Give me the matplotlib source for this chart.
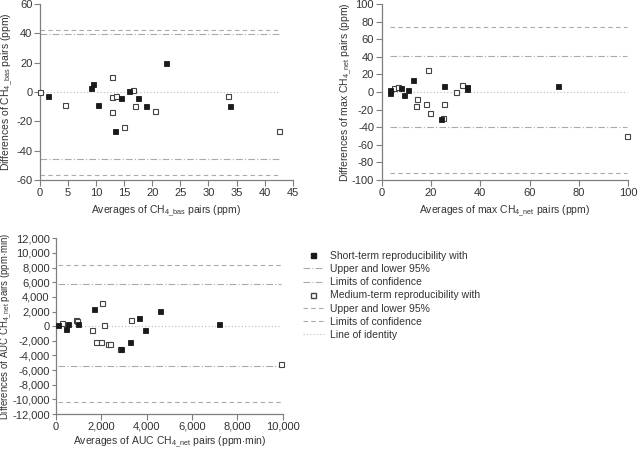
import matplotlib
matplotlib.use("Agg")
import matplotlib.pyplot as plt
from matplotlib.lines import Line2D
import numpy as np

plt.rcParams['font.family'] = ['Liberation Sans', 'DejaVu Sans']
plt.rcParams['mathtext.fontset'] = 'custom'
plt.rcParams['mathtext.rm'] = 'Liberation Sans'
plt.rcParams['mathtext.it'] = 'Liberation Sans'

# ---- Panel 1: CH4_bas ----
p1_short_x = [1.5, 9.0, 9.4, 10.4, 13.4, 14.5, 15.9, 17.4, 18.9, 22.4, 33.9]
p1_short_y = [-2.5, 2.5, 5.7, -8.6, -26.4, -4.3, 0.7, -4.3, -9.3, 19.5, -9.3]
p1_med_x = [0.0, 4.5, 12.9, 12.9, 13.5, 12.9, 15.0, 16.5, 16.9, 20.4, 33.5, 42.6]
p1_med_y = [0.0, -8.6, 10.4, -3.4, -2.7, -13.6, -23.6, 1.6, -9.3, -12.7, -2.5, -26.6]
p1_short_loa = [39.3, -45.4]
p1_med_loa = [42.1, -56.8]

# ---- Panel 2: max CH4_net ----
p2_short_x = [3.3, 3.3, 8.0, 9.2, 10.5, 12.6, 24.0, 25.1, 34.5, 34.5, 71.4]
p2_short_y = [2.0, -1.0, 4.9, -3.0, 1.9, 14.0, -31.0, 6.8, 5.3, 3.0, 6.8]
p2_med_x = [5.0, 6.6, 14.1, 14.2, 18.0, 18.6, 19.6, 24.7, 25.3, 30.1, 32.7, 99.3]
p2_med_y = [5.0, 5.7, -15.5, -8.3, -14.0, 25.5, -24.2, -30.0, -13.3, 0.0, 8.3, -50.4]
p2_short_loa = [41.3, -39.8]
p2_med_loa = [74.2, -92.4]

# ---- Panel 3: AUC CH4_net ----
p3_short_x = [100, 430, 540, 960, 1680, 2880, 3250, 3650, 3930, 4590, 7190]
p3_short_y = [200, -350, 250, 300, 2390, -3100, -2200, 1100, -480, 2030, 300]
p3_med_x = [250, 880, 930, 1590, 1770, 2000, 2020, 2120, 2290, 2400, 2840, 3310, 9930]
p3_med_y = [450, 890, 660, -570, -2160, -2160, 3170, 110, -2390, -2390, -3070, 800, -5170]
p3_short_loa = [5800, -5500]
p3_med_loa = [8300, -10400]

W, H = 639, 450
fig = plt.figure(figsize=(W / 100, H / 100), dpi=100)

boxes = {
    1: (40, 292.7, 4, 180),
    2: (381.7, 628.3, 4, 180),
    3: (56, 282.7, 238.3, 414),
}

def rect(l, r, t, b):
    return [l / W, 1 - b / H, (r - l) / W, (b - t) / H]

ax1 = fig.add_axes(rect(*boxes[1]))
ax2 = fig.add_axes(rect(*boxes[2]))
ax3 = fig.add_axes(rect(*boxes[3]))

spine_c = '#7f7f7f'
txt_c = '#333333'
fs = 8
lfs = 7.5

def style(ax):
    for s in ['top', 'right']:
        ax.spines[s].set_visible(False)
    for s in ['left', 'bottom']:
        ax.spines[s].set_color(spine_c)
        ax.spines[s].set_linewidth(0.9)
    ax.tick_params(axis='both', colors=spine_c, labelcolor=txt_c, labelsize=fs,
                   length=4, width=0.8, direction='out', pad=1.5)

def place_ylabel(ax, key, px):
    l, r, t, b = boxes[key]
    ax.yaxis.set_label_coords((px - l) / (r - l), 0.5)

def draw(ax, sx, sy, mx, my, sl, ml):
    xs = list(sx) + list(mx)
    x0, x1 = min(xs), max(xs)
    for v in sl:
        ax.hlines(v, x0, x1, colors='#aaaaaa', linestyles=(0, (6, 2, 1, 2)), linewidth=0.8)
    for v in ml:
        ax.hlines(v, x0, x1, colors='#aaaaaa', linestyles=(0, (4, 3)), linewidth=0.8)
    ax.hlines(0, x0, x1, colors='#bbbbbb', linestyles=(0, (1, 2)), linewidth=0.8)
    ax.plot(mx, my, linestyle='none', marker='s', markersize=3.6, markerfacecolor='white',
            markeredgecolor='#444444', markeredgewidth=0.8, clip_on=False, zorder=3)
    ax.plot(sx, sy, linestyle='none', marker='s', markersize=3.6, markerfacecolor='#1a1a1a',
            markeredgecolor='#1a1a1a', markeredgewidth=0.6, clip_on=False, zorder=4)

def hyphen_fmt(v, comma=False):
    s = f"{abs(int(v)):,}" if comma else f"{abs(int(v))}"
    return ('-' + s) if v < 0 else s

# Panel 1
draw(ax1, p1_short_x, p1_short_y, p1_med_x, p1_med_y, p1_short_loa, p1_med_loa)
style(ax1)
ax1.set_xlim(0, 45)
ax1.set_ylim(-60, 60)
xt = np.arange(0, 46, 5)
yt = np.arange(-60, 61, 20)
ax1.set_xticks(xt, [hyphen_fmt(v) for v in xt])
ax1.set_yticks(yt, [hyphen_fmt(v) for v in yt])
ax1.set_xlabel(r'Averages of CH$_{\mathrm{4\_bas}}$ pairs (ppm)', fontsize=lfs, color=txt_c, labelpad=4)
ax1.set_ylabel(r'Differences of CH$_{\mathrm{4\_bas}}$ pairs (ppm)', fontsize=lfs, color=txt_c)
place_ylabel(ax1, 1, 15)

# Panel 2
draw(ax2, p2_short_x, p2_short_y, p2_med_x, p2_med_y, p2_short_loa, p2_med_loa)
style(ax2)
ax2.set_xlim(0, 100)
ax2.set_ylim(-100, 100)
xt = np.arange(0, 101, 20)
yt = np.arange(-100, 101, 20)
ax2.set_xticks(xt, [hyphen_fmt(v) for v in xt])
ax2.set_yticks(yt, [hyphen_fmt(v) for v in yt])
ax2.set_xlabel(r'Averages of max CH$_{\mathrm{4\_net}}$ pairs (ppm)', fontsize=lfs, color=txt_c, labelpad=4)
ax2.set_ylabel(r'Differences of max CH$_{\mathrm{4\_net}}$ pairs (ppm)', fontsize=lfs, color=txt_c)
place_ylabel(ax2, 2, 353.5)

# Panel 3
draw(ax3, p3_short_x, p3_short_y, p3_med_x, p3_med_y, p3_short_loa, p3_med_loa)
style(ax3)
ax3.set_xlim(0, 10000)
ax3.set_ylim(-12000, 12000)
xt = np.arange(0, 10001, 2000)
yt = np.arange(-12000, 12001, 2000)
ax3.set_xticks(xt, [hyphen_fmt(v, True) for v in xt])
ax3.set_yticks(yt, [hyphen_fmt(v, True) for v in yt])
ax3.tick_params(axis='y', length=3)
ax3.set_xlabel(r'Averages of AUC CH$_{\mathrm{4\_net}}$ pairs (ppm$\cdot$min)', fontsize=lfs, color=txt_c, labelpad=2)
ax3.set_ylabel(r'Differences of AUC CH$_{\mathrm{4\_net}}$ pairs (ppm$\cdot$min)', fontsize=6.9, color=txt_c)
place_ylabel(ax3, 3, 14.5)

# Legend
handles = [
    Line2D([], [], linestyle='none', marker='s', markersize=3.6, markerfacecolor='#1a1a1a', markeredgecolor='#1a1a1a'),
    Line2D([], [], color='#aaaaaa', linestyle=(0, (6, 2, 1, 2)), linewidth=0.8),
    Line2D([], [], color='#aaaaaa', linestyle=(0, (6, 2, 1, 2)), linewidth=0.8),
    Line2D([], [], linestyle='none', marker='s', markersize=3.6, markerfacecolor='white', markeredgecolor='#444444'),
    Line2D([], [], color='#aaaaaa', linestyle=(0, (4, 3)), linewidth=0.8),
    Line2D([], [], color='#aaaaaa', linestyle=(0, (4, 3)), linewidth=0.8),
    Line2D([], [], color='#bbbbbb', linestyle=(0, (1, 2)), linewidth=0.8),
]
labels = ['Short-term reproducibility with', 'Upper and lower 95%', 'Limits of confidence',
          'Medium-term reproducibility with', 'Upper and lower 95%', 'Limits of confidence',
          'Line of identity']
leg = fig.legend(handles, labels, loc='upper left', bbox_to_anchor=(303 / W, 1 - 251 / H),
                 frameon=False, fontsize=lfs, handlelength=2.0, handletextpad=0.6,
                 labelspacing=0.3, borderaxespad=0, borderpad=0)
for t in leg.get_texts():
    t.set_color(txt_c)

fig.savefig('out.png', dpi=100)
